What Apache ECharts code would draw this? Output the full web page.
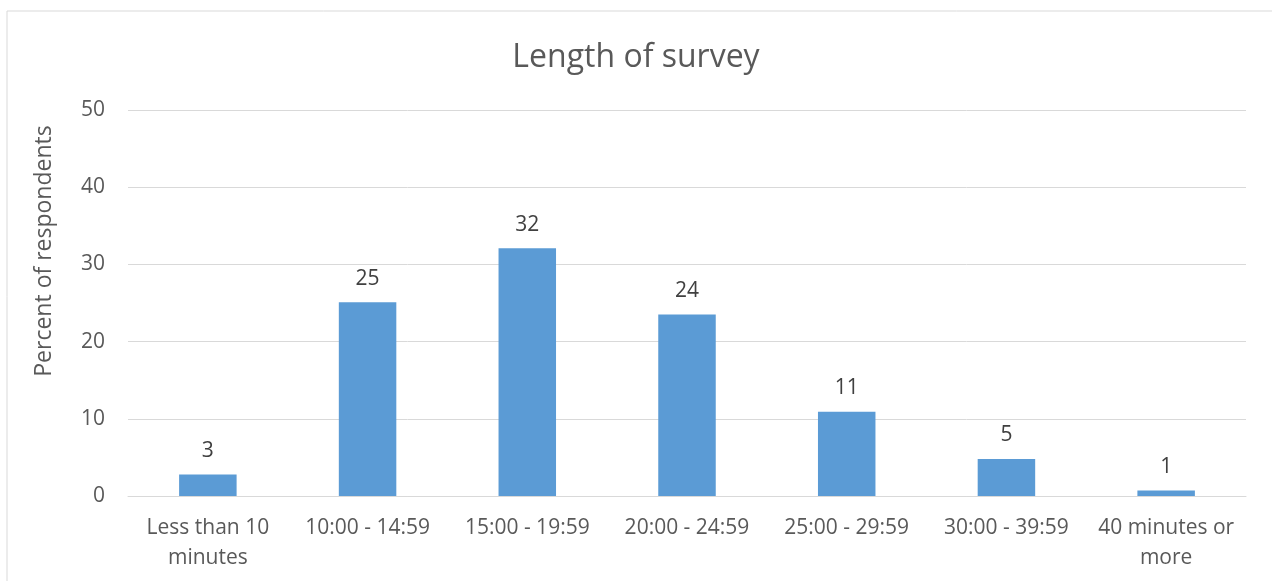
<!DOCTYPE html>
<html>
<head>
<meta charset="utf-8">
<script src="https://cdn.jsdelivr.net/npm/echarts@6/dist/echarts.min.js"></script>
<style>
  html, body { margin: 0; padding: 0; background: #fff; }
  #chart { width: 1272px; height: 581px; }
</style>
</head>
<body>
<div id="chart"></div>
<script>
// Survey completion time buckets and the share of respondents in each
const categories = ['Less than 10\nminutes', '10:00 - 14:59', '15:00 - 19:59', '20:00 - 24:59', '25:00 - 29:59', '30:00 - 39:59', '40 minutes or\nmore'];
const percents = [2.8, 25.1, 32.1, 23.5, 10.9, 4.8, 0.7];
const yTicks = { min: 0, max: 50, interval: 10 };

const textColor = '#595959';
const fontFamily = '"Open Sans", "Liberation Sans", sans-serif';

const chart = echarts.init(document.getElementById('chart'));
chart.setOption({
  animation: false,
  graphic: [{
    type: 'rect',
    shape: { x: 7, y: 11, width: 1300, height: 620 },
    style: { fill: 'none', stroke: '#d9d9d9', lineWidth: 1 },
    silent: true
  }],
  title: {
    text: 'Length of survey',
    left: 'center',
    top: 37,
    textStyle: { color: textColor, fontFamily, fontSize: 32, fontWeight: 'normal' }
  },
  grid: { left: 128, right: 26, top: 110, bottom: 85, containLabel: false },
  xAxis: {
    type: 'category',
    data: categories,
    axisLine: { show: true, lineStyle: { color: '#d9d9d9', width: 1 } },
    axisTick: { show: false },
    axisLabel: { color: textColor, fontFamily, fontSize: 21, lineHeight: 30, margin: 17, interval: 0 }
  },
  yAxis: {
    type: 'value',
    min: yTicks.min,
    max: yTicks.max,
    interval: yTicks.interval,
    name: 'Percent of respondents',
    nameLocation: 'middle',
    nameGap: 72,
    nameTextStyle: { color: textColor, fontFamily, fontSize: 23, padding: [0, 0, 0, 104] },
    axisLine: { show: false },
    axisTick: { show: false },
    axisLabel: { color: textColor, fontFamily, fontSize: 21, margin: 23 },
    splitLine: { lineStyle: { color: '#d9d9d9', width: 1 } }
  },
  series: [{
    type: 'bar',
    data: percents,
    barWidth: '36%',
    itemStyle: { color: '#5B9BD5' },
    label: {
      show: true,
      position: 'top',
      distance: 13,
      color: '#404040',
      fontFamily,
      fontSize: 21,
      formatter: p => String(Math.round(p.value))
    }
  }]
});
</script>
</body>
</html>
